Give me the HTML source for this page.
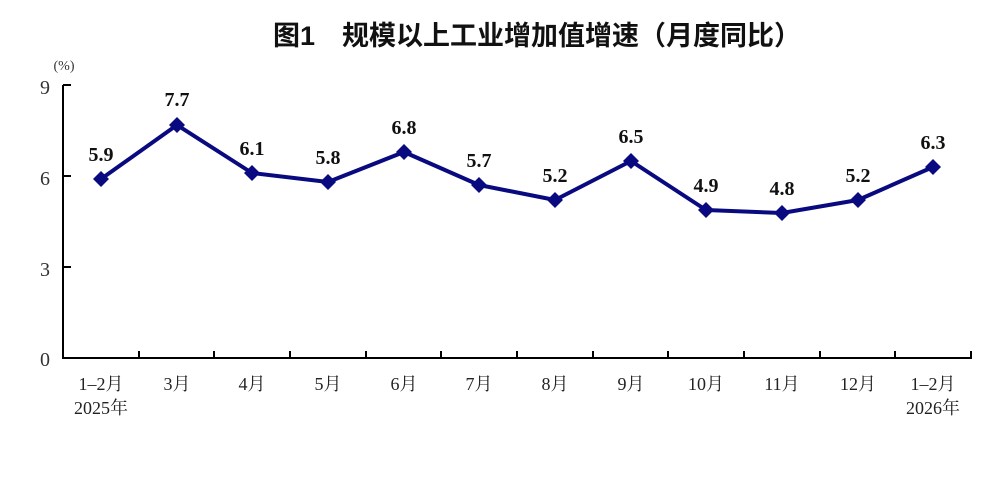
<!DOCTYPE html>
<html><head><meta charset="utf-8"><style>body{margin:0;background:#fff}svg{display:block}</style></head><body>
<svg width="1000" height="478" xmlns="http://www.w3.org/2000/svg" font-family="'Liberation Serif','Noto Serif CJK SC',serif">
<text x="537" y="45" text-anchor="middle" font-size="27" font-weight="bold" font-family="'Liberation Sans','Noto Sans CJK SC',sans-serif" fill="#111">图1　规模以上工业增加值增速（月度同比）</text>
<text x="64" y="70" text-anchor="middle" font-size="14" fill="#333">(%)</text>
<g stroke="#000" stroke-width="2" fill="none">
<path d="M63 85 V358 H972"/>
<path d="M63 85 h8 M63 176 h8 M63 267 h8"/>
<path d="M139 358v-7M214 358v-7M290 358v-7M366 358v-7M441 358v-7M517 358v-7M593 358v-7M668 358v-7M744 358v-7M820 358v-7M895 358v-7M971 358v-7"/>
</g>
<g font-size="20" fill="#333" text-anchor="end">
<text x="50" y="94">9</text><text x="50" y="185">6</text><text x="50" y="276">3</text><text x="50" y="366">0</text>
</g>
<g font-size="18" fill="#222" text-anchor="middle">
<text x="101" y="390">1–2月</text><text x="101" y="414">2025年</text>
<text x="177" y="390">3月</text><text x="252" y="390">4月</text><text x="328" y="390">5月</text><text x="404" y="390">6月</text><text x="479" y="390">7月</text><text x="555" y="390">8月</text><text x="631" y="390">9月</text><text x="706" y="390">10月</text><text x="782" y="390">11月</text><text x="858" y="390">12月</text>
<text x="933" y="390">1–2月</text><text x="933" y="414">2026年</text>
</g>
<polyline fill="none" stroke="#0a0a80" stroke-width="4" stroke-linejoin="round" points="101,179 177,125 252,173 328,182 404,152 479,185 555,200 631,161 706,210 782,213 858,200 933,167"/>
<g fill="#0a0a80">
<path d="M101 171l8 8-8 8-8-8z"/><path d="M177 117l8 8-8 8-8-8z"/><path d="M252 165l8 8-8 8-8-8z"/><path d="M328 174l8 8-8 8-8-8z"/><path d="M404 144l8 8-8 8-8-8z"/><path d="M479 177l8 8-8 8-8-8z"/><path d="M555 192l8 8-8 8-8-8z"/><path d="M631 153l8 8-8 8-8-8z"/><path d="M706 202l8 8-8 8-8-8z"/><path d="M782 205l8 8-8 8-8-8z"/><path d="M858 192l8 8-8 8-8-8z"/><path d="M933 159l8 8-8 8-8-8z"/>
</g>
<g font-size="20" font-weight="bold" fill="#111" text-anchor="middle">
<text x="101" y="161">5.9</text><text x="177" y="106">7.7</text><text x="252" y="155">6.1</text><text x="328" y="164">5.8</text><text x="404" y="134">6.8</text><text x="479" y="167">5.7</text><text x="555" y="182">5.2</text><text x="631" y="143">6.5</text><text x="706" y="192">4.9</text><text x="782" y="195">4.8</text><text x="858" y="182">5.2</text><text x="933" y="149">6.3</text>
</g>
</svg>
</body></html>
